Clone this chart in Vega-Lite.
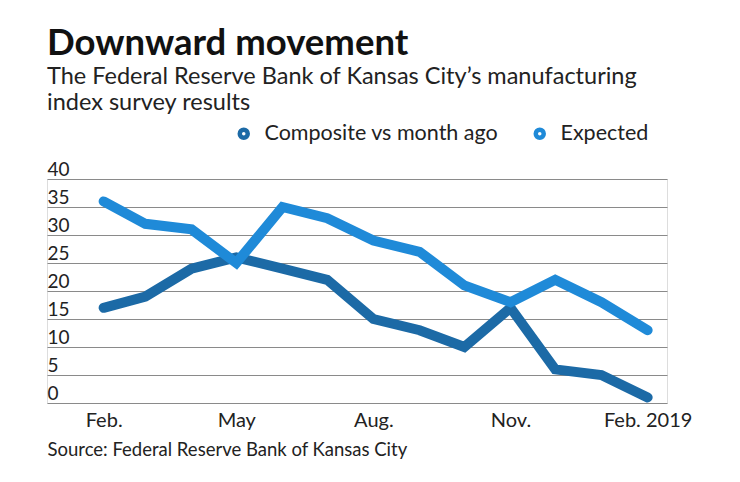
{
  "$schema": "https://vega.github.io/schema/vega-lite/v6.json",
  "width": 620,
  "height": 224,
  "autosize": {"type": "none"},
  "padding": {"left": 47, "top": 179, "right": 73, "bottom": 79},
  "background": "white",
  "title": {
    "text": "Downward movement",
    "subtitle": ["The Federal Reserve Bank of Kansas City’s manufacturing", "index survey results"],
    "anchor": "start",
    "frame": "group",
    "font": "Lato",
    "fontSize": 36.5,
    "fontWeight": "bold",
    "color": "#111111",
    "subtitleFont": "Lato",
    "subtitleFontSize": 23.5,
    "subtitleColor": "#222222",
    "subtitleLineHeight": 26,
    "subtitlePadding": 2,
    "offset": 9
  },
  "data": {
    "values": [
      {"month": "2018-02-01", "series": "Composite vs month ago", "value": 17},
      {"month": "2018-03-01", "series": "Composite vs month ago", "value": 19},
      {"month": "2018-04-01", "series": "Composite vs month ago", "value": 24},
      {"month": "2018-05-01", "series": "Composite vs month ago", "value": 26},
      {"month": "2018-06-01", "series": "Composite vs month ago", "value": 24},
      {"month": "2018-07-01", "series": "Composite vs month ago", "value": 22},
      {"month": "2018-08-01", "series": "Composite vs month ago", "value": 15},
      {"month": "2018-09-01", "series": "Composite vs month ago", "value": 13},
      {"month": "2018-10-01", "series": "Composite vs month ago", "value": 10},
      {"month": "2018-11-01", "series": "Composite vs month ago", "value": 17},
      {"month": "2018-12-01", "series": "Composite vs month ago", "value": 6},
      {"month": "2019-01-01", "series": "Composite vs month ago", "value": 5},
      {"month": "2019-02-01", "series": "Composite vs month ago", "value": 1},
      {"month": "2018-02-01", "series": "Expected", "value": 36},
      {"month": "2018-03-01", "series": "Expected", "value": 32},
      {"month": "2018-04-01", "series": "Expected", "value": 31},
      {"month": "2018-05-01", "series": "Expected", "value": 25},
      {"month": "2018-06-01", "series": "Expected", "value": 35},
      {"month": "2018-07-01", "series": "Expected", "value": 33},
      {"month": "2018-08-01", "series": "Expected", "value": 29},
      {"month": "2018-09-01", "series": "Expected", "value": 27},
      {"month": "2018-10-01", "series": "Expected", "value": 21},
      {"month": "2018-11-01", "series": "Expected", "value": 18},
      {"month": "2018-12-01", "series": "Expected", "value": 22},
      {"month": "2019-01-01", "series": "Expected", "value": 18},
      {"month": "2019-02-01", "series": "Expected", "value": 13}
    ]
  },
  "mark": {"type": "line", "strokeWidth": 10, "strokeCap": "round", "strokeJoin": "miter"},
  "encoding": {
    "x": {
      "field": "month",
      "type": "temporal",
      "scale": {
        "type": "utc",
        "domain": [
          {"year": 2017, "month": 12, "date": 25, "utc": true},
          {"year": 2019, "month": 2, "date": 14, "utc": true}
        ]
      },
      "axis": {
        "values": [
          {"year": 2018, "month": 2, "date": 1, "utc": true},
          {"year": 2018, "month": 5, "date": 1, "utc": true},
          {"year": 2018, "month": 8, "date": 1, "utc": true},
          {"year": 2018, "month": 11, "date": 1, "utc": true},
          {"year": 2019, "month": 2, "date": 1, "utc": true}
        ],
        "labelExpr": "utcyear(datum.value) == 2019 ? 'Feb. 2019' : (utcmonth(datum.value) == 4 ? 'May' : utcFormat(datum.value, '%b') + '.')",
        "grid": false,
        "domain": false,
        "ticks": false,
        "tickSize": 0,
        "labelFont": "Lato",
        "labelFontSize": 20,
        "labelColor": "#222222",
        "labelPadding": 7,
        "labelFlush": false,
        "labelOverlap": false,
        "title": "Source: Federal Reserve Bank of Kansas City",
        "titleFont": "Lato",
        "titleFontSize": 18.5,
        "titleFontWeight": "normal",
        "titleColor": "#222222",
        "titleAnchor": "start",
        "titleAlign": "left",
        "titleBaseline": "alphabetic",
        "titleX": 0,
        "titleY": 52
      }
    },
    "y": {
      "field": "value",
      "type": "quantitative",
      "scale": {"domain": [0, 40], "nice": false},
      "axis": {
        "values": [0, 5, 10, 15, 20, 25, 30, 35, 40],
        "grid": true,
        "gridColor": "#8a8a8a",
        "gridWidth": 1,
        "domain": false,
        "ticks": false,
        "tickSize": 0,
        "labelAlign": "left",
        "labelBaseline": "alphabetic",
        "labelPadding": 0,
        "labelOffset": -4,
        "labelFont": "Lato",
        "labelFontSize": 19,
        "labelColor": "#222222",
        "title": null
      }
    },
    "color": {
      "field": "series",
      "type": "nominal",
      "scale": {"domain": ["Composite vs month ago", "Expected"], "range": ["#1c6aa6", "#1f8ad8"]},
      "legend": {
        "title": null,
        "orient": "none",
        "direction": "horizontal",
        "legendX": 186,
        "legendY": -56,
        "symbolType": "circle",
        "symbolSize": 20,
        "symbolStrokeWidth": 8,
        "labelFont": "Lato",
        "labelFontSize": 21.5,
        "labelColor": "#222222",
        "labelLimit": 400,
        "labelOffset": 10,
        "columnPadding": 22
      }
    }
  }
}
